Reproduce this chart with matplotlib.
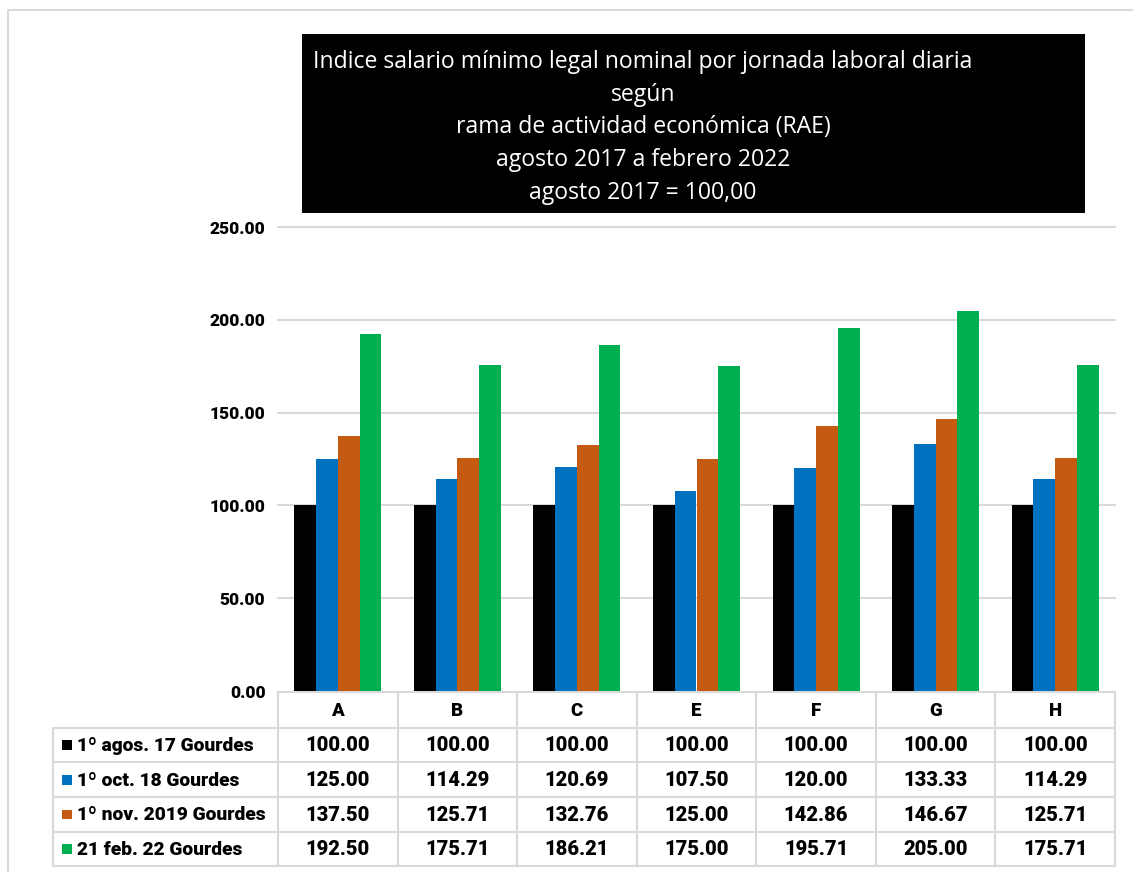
import matplotlib
matplotlib.use("Agg")
import matplotlib.pyplot as plt
from matplotlib.patches import Rectangle

plt.rcParams["font.family"] = ["Roboto", "DejaVu Sans"]
TITLE_FONT = ["Open Sans", "DejaVu Sans"]
BOLD = "heavy"

# ── data ────────────────────────────────────────────────────────────────────
categories = ["A", "B", "C", "E", "F", "G", "H"]
series_names = ["1º agos. 17 Gourdes", "1º oct. 18 Gourdes",
                "1º nov. 2019 Gourdes", "21 feb. 22 Gourdes"]
agos17 = [100.00, 100.00, 100.00, 100.00, 100.00, 100.00, 100.00]
oct18 = [125.00, 114.29, 120.69, 107.50, 120.00, 133.33, 114.29]
nov19 = [137.50, 125.71, 132.76, 125.00, 142.86, 146.67, 125.71]
feb22 = [192.50, 175.71, 186.21, 175.00, 195.71, 205.00, 175.71]
series = [agos17, oct18, nov19, feb22]
colors = ["#000000", "#0070C0", "#C55A11", "#00B050"]
yticks = [0, 50, 100, 150, 200, 250]
title_lines = ["Indice salario mínimo legal nominal por jornada laboral diaria",
               "según",
               "rama de actividad económica (RAE)",
               "agosto 2017 a febrero 2022",
               "agosto 2017 = 100,00"]

W, H = 1133, 872
GRID = "#d9d9d9"

fig = plt.figure(figsize=(W / 100, H / 100), dpi=100, facecolor="white")

# overlay in pixel coordinates for frame, title box and table
ov = fig.add_axes([0, 0, 1, 1], zorder=0)
ov.set_xlim(0, W); ov.set_ylim(H, 0); ov.axis("off")

# outer chart frame
ov.plot([7.5, 7.5, W + 5], [H + 5, 10.5, 10.5], color=GRID, lw=1.5)

# bar axes
left, right, top, bottom = 278, 1115, 227, 691
ax = fig.add_axes([left / W, (H - bottom) / H, (right - left) / W, (bottom - top) / H],
                  zorder=1)
ax.patch.set_alpha(0)

n = len(categories)
bw = 0.182
for k, (vals, col) in enumerate(zip(series, colors)):
    xs = [i + (k - 1.5) * bw for i in range(n)]
    ax.bar(xs, vals, width=bw, color=col, edgecolor="none", zorder=3)

ax.set_xlim(-0.5, n - 0.5)
ax.set_ylim(0, 250)
ax.set_yticks(yticks)
ax.set_yticklabels([f"{v:.2f}" for v in yticks], fontsize=12.5, fontweight=BOLD)
ax.set_xticks([])
ax.tick_params(axis="y", length=0, pad=9)
for s in ax.spines.values():
    s.set_visible(False)
for v in yticks[1:]:
    ax.axhline(v, color=GRID, lw=1.5, zorder=1, clip_on=False)

# title box
ov.add_patch(Rectangle((302, 34), 783, 179, facecolor="black", edgecolor="none"))
for j, line in enumerate(title_lines):
    ov.text(643, 62 + j * 32.7, line, color="white", fontsize=16.6,
            family=TITLE_FONT, ha="center", va="center")

# data table
cw = (right - left) / n
row_y = [692, 727.5, 762, 797, 831.5, 866]
lab_left = 53
ov.plot([left, right], [row_y[0], row_y[0]], color=GRID, lw=1.5)
for y in row_y[1:]:
    ov.plot([lab_left, right], [y, y], color=GRID, lw=1.5)
ov.plot([lab_left, lab_left], [row_y[1], row_y[-1]], color=GRID, lw=1.5)
for i in range(n + 1):
    x = left + i * cw
    ov.plot([x, x], [row_y[0], row_y[-1]], color=GRID, lw=1.5)

for i, cat in enumerate(categories):
    ov.text(left + (i + 0.5) * cw, (row_y[0] + row_y[1]) / 2 + 1, cat,
            fontsize=13.5, fontweight=BOLD, ha="center", va="center")

for r, (name, vals, col) in enumerate(zip(series_names, series, colors)):
    yc = (row_y[r + 1] + row_y[r + 2]) / 2
    ov.add_patch(Rectangle((62, yc - 4.5), 9.5, 9.5, facecolor=col, edgecolor="none"))
    ov.text(77, yc + 1, name, fontsize=13.8, fontweight=BOLD, ha="left", va="center")
    for i, v in enumerate(vals):
        ov.text(left + (i + 0.5) * cw, yc + 1, f"{v:.2f}", fontsize=14.5,
                fontweight=BOLD, ha="center", va="center")

fig.savefig("out.png", dpi=100, facecolor="white")
